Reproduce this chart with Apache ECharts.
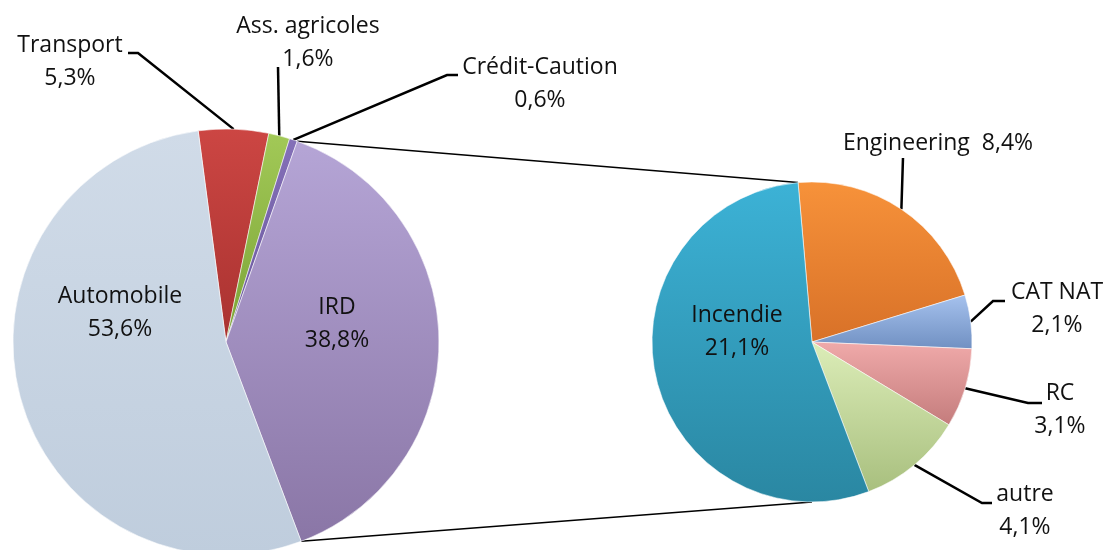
<!DOCTYPE html>
<html>
<head>
<meta charset="utf-8">
<script src="https://cdn.jsdelivr.net/npm/echarts@6/dist/echarts.min.js"></script>
<style>
  html, body { margin: 0; padding: 0; background: #fff; }
  #chart { width: 1107px; height: 550px; }
</style>
</head>
<body>
<div id="chart"></div>
<script>
// main pie (clockwise from the top)
const mainNames = ['Transport', 'Ass. agricoles', 'Crédit-Caution', 'IRD', 'Automobile']
const mainValues = [5.3, 1.6, 0.6, 38.8, 53.6]
// detail of IRD
const irdNames = ['Engineering', 'CAT NAT', 'RC', 'autre', 'Incendie']
const irdValues = [8.4, 2.1, 3.1, 4.1, 21.1]

// [top colour, bottom colour]
const colors = {
  'Transport': ['#cc4643', '#a93230'],
  'Ass. agricoles': ['#a2c957', '#7ba336'],
  'Crédit-Caution': ['#8470b8', '#6a579c'],
  'IRD': ['#b5a5d6', '#8a76a6'],
  'Automobile': ['#d0dbe8', '#bfcddd'],
  'Engineering': ['#f7923a', '#d87128'],
  'CAT NAT': ['#a6c2ee', '#7090c2'],
  'RC': ['#f0aaaa', '#c47c7c'],
  'autre': ['#dcedb8', '#a8bf7e'],
  'Incendie': ['#3cb2d6', '#2a87a2']
}

// label anchors and leader lines (pixels)
const labelSpots = {
  'Transport': { x: 70, y: 62, line: [[138, 53], [128, 53]] },
  'Ass. agricoles': { x: 308, y: 43, line: [[278, 67]] },
  'Crédit-Caution': { x: 540, y: 84, line: [[447, 75], [458, 75]] },
  'IRD': { x: 337, y: 324 },
  'Automobile': { x: 120, y: 313 },
  'Engineering': { x: 938, y: 143, line: [[903, 158]] },
  'CAT NAT': { x: 1057, y: 309, line: [[993, 301], [1005, 301]] },
  'RC': { x: 1060, y: 410, line: [[1028, 403], [1042, 403]] },
  'autre': { x: 1025, y: 511, line: [[982, 503], [992, 503]] },
  'Incendie': { x: 737, y: 332 }
}

const insideNames = ['IRD', 'Automobile', 'Incendie']

const mainCenter = [226, 342]
const mainRadius = 213
const mainStart = 97.5
const irdCenter = [812, 342]
const irdRadius = 160
const irdStart = 95

function fmt(v) {
  return v.toFixed(1).replace('.', ',') + '%'
}

function buildData(names, values) {
  return names.map((n, i) => {
    const inside = insideNames.indexOf(n) >= 0
    return {
      name: n,
      value: values[i],
      itemStyle: {
        color: {
          type: 'linear', x: 0, y: 0, x2: 0, y2: 1,
          colorStops: [
            { offset: 0, color: colors[n][0] },
            { offset: 1, color: colors[n][1] }
          ]
        }
      },
      label: { position: inside ? 'inside' : 'outside' },
      labelLine: { show: !inside }
    }
  })
}

function layoutFor(names) {
  return function(p) {
    const s = labelSpots[names[p.dataIndex]]
    const out = { x: s.x, y: s.y, align: 'center', verticalAlign: 'middle' }
    if (s.line && p.labelLinePoints) {
      out.labelLinePoints = [p.labelLinePoints[0]].concat(s.line)
    }
    return out
  }
}

function pointAt(center, r, deg) {
  // deg: echarts angle, counter-clockwise from 3 o'clock
  const a = deg * Math.PI / 180
  return [center[0] + r * Math.cos(a), center[1] - r * Math.sin(a)]
}

// connector lines from the IRD slice to the secondary pie
const totalMain = mainValues.reduce((a, b) => a + b, 0)
const irdIdx = mainNames.indexOf('IRD')
const beforeIrd = mainValues.slice(0, irdIdx).reduce((a, b) => a + b, 0)
const irdFrom = mainStart - beforeIrd / totalMain * 360
const irdTo = irdFrom - mainValues[irdIdx] / totalMain * 360
const topA = pointAt(mainCenter, mainRadius, irdFrom)
const botA = pointAt(mainCenter, mainRadius, irdTo)
const topB = pointAt(irdCenter, irdRadius, irdStart)
const botB = pointAt(irdCenter, irdRadius, 270)

const labelStyle = {
  fontFamily: 'Open Sans',
  fontSize: 23,
  lineHeight: 33,
  color: '#111',
  align: 'center'
}

const chart = echarts.init(document.getElementById('chart'), null, { renderer: 'canvas' })
chart.setOption({
  backgroundColor: '#fff',
  animation: false,
  graphic: [
    {
      type: 'polyline', z: 0, silent: true,
      shape: { points: [topA, topB] },
      style: { stroke: '#000', lineWidth: 1.5 }
    },
    {
      type: 'polyline', z: 0, silent: true,
      shape: { points: [botA, botB] },
      style: { stroke: '#000', lineWidth: 1.5 }
    }
  ],
  series: [
    {
      type: 'pie',
      center: mainCenter,
      radius: mainRadius,
      startAngle: mainStart,
      clockwise: true,
      avoidLabelOverlap: false,
      z: 3,
      data: buildData(mainNames, mainValues),
      itemStyle: { borderColor: 'rgba(255,255,255,0.55)', borderWidth: 1 },
      label: Object.assign({
        formatter: p => p.name + '\n' + fmt(p.value)
      }, labelStyle),
      labelLine: { lineStyle: { color: '#000', width: 2.5 } },
      labelLayout: layoutFor(mainNames),
      emphasis: { disabled: true }
    },
    {
      type: 'pie',
      center: irdCenter,
      radius: irdRadius,
      startAngle: irdStart,
      clockwise: true,
      avoidLabelOverlap: false,
      z: 3,
      data: buildData(irdNames, irdValues),
      itemStyle: { borderColor: 'rgba(255,255,255,0.55)', borderWidth: 1 },
      label: Object.assign({
        formatter: p => p.name + (p.name === 'Engineering' ? '  ' : '\n') + fmt(p.value)
      }, labelStyle),
      labelLine: { lineStyle: { color: '#000', width: 2.5 } },
      labelLayout: layoutFor(irdNames),
      emphasis: { disabled: true }
    }
  ]
})
</script>
</body>
</html>
